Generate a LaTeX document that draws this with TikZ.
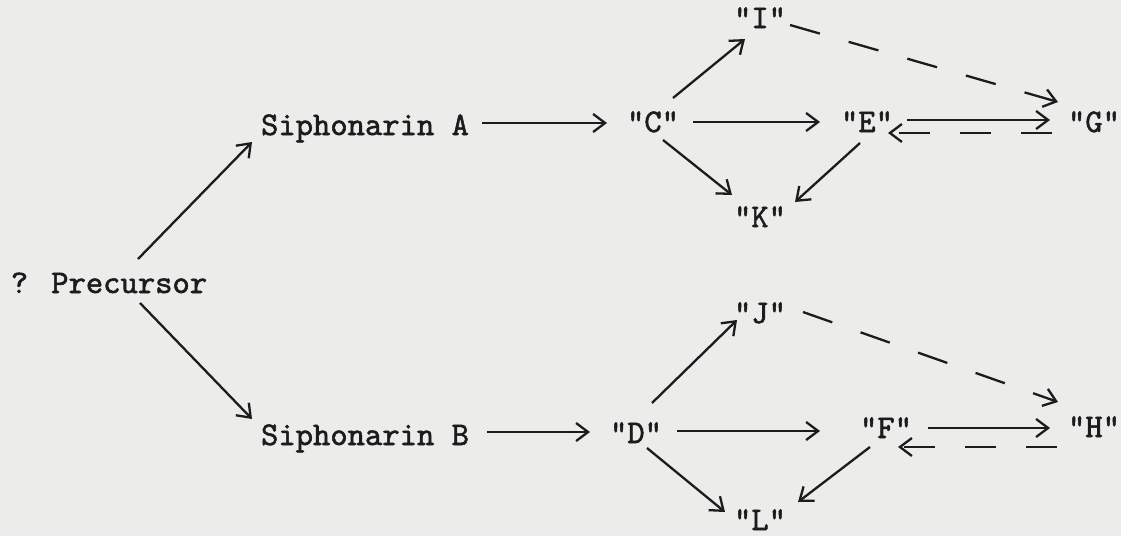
\documentclass[tikz,border=0pt]{standalone}
\usepackage{fontspec}
\newfontfamily\tyfont{lmmono10-regular.otf}[FakeBold=1.6]
\usetikzlibrary{arrows.meta,calc}
\definecolor{bg}{RGB}{236,236,235}
\definecolor{ink}{RGB}{28,28,28}
\begin{document}
\begin{tikzpicture}[x=1pt,y=-1pt,
  lbl/.style={anchor=base,inner sep=0pt,text=ink,font=\tyfont\fontsize{33}{33}\selectfont},
  arr/.style={draw=ink,line width=2.3pt,-{Straight Barb[length=12pt,width=18pt,line width=2.3pt]}},
  dsh/.style={arr,dash pattern=on 31pt off 30pt}]
\fill[bg] (0,0) rectangle (1121,536);
\useasboundingbox (0,0) rectangle (1121,536);
\node[lbl] (Pre) at (109,293) {? Precursor};
\node[lbl] (SA) at (365,135) {Siphonarin A};
\node[lbl] (SB) at (365,445) {Siphonarin B};
\node[lbl] (C) at (653,132) {"C"};
\node[lbl] (I) at (760,28) {"I"};
\node[lbl] (E) at (867,132) {"E"};
\node[lbl] (G) at (1094,132) {"G"};
\node[lbl] (K) at (760,227) {"K"};
\node[lbl] (D) at (636,443) {"D"};
\node[lbl] (J) at (760,323) {"J"};
\node[lbl] (F) at (886,438) {"F"};
\node[lbl] (H) at (1094,437) {"H"};
\node[lbl] (L) at (760,530) {"L"};
% top
\draw[arr] ($(Pre.base)+(29,-34)$) -- ($(SA.base)+(-113,7)$);
\draw[arr] ($(Pre.base)+(31,10)$) -- ($(SB.base)+(-113,-26)$);
\draw[arr] ($(SA.base)+(117,-12)$) -- ($(C.base)+(-46,-9)$);
\draw[arr] ($(C.base)+(40,-10)$) -- ($(E.base)+(-47,-10)$);
\draw[arr] ($(C.base)+(20,-34)$) -- ($(I.base)+(-15,11)$);
\draw[arr] ($(C.base)+(10,8)$) -- ($(K.base)+(-28,-32)$);
\draw[arr] ($(E.base)+(-7,11)$) -- ($(K.base)+(35,-25)$);
\draw[arr] ($(E.base)+(40,-12)$) -- ($(G.base)+(-44,-12)$);
\draw[dsh] ($(G.base)+(-42,1)$) -- ($(E.base)+(21,1)$);
\draw[dsh] ($(I.base)+(30,-3)$) -- ($(G.base)+(-36,-30)$);
% bottom
\draw[arr] ($(SB.base)+(122,-13)$) -- ($(D.base)+(-46,-11)$);
\draw[arr] ($(D.base)+(41,-12)$) -- ($(F.base)+(-66,-7)$);
\draw[arr] ($(D.base)+(16,-40)$) -- ($(J.base)+(-23,-3)$);
\draw[arr] ($(D.base)+(11,5)$) -- ($(L.base)+(-35,-18)$);
\draw[arr] ($(F.base)+(-16,9)$) -- ($(L.base)+(38,-28)$);
\draw[arr] ($(F.base)+(42,-10)$) -- ($(H.base)+(-44,-9)$);
\draw[dsh] ($(H.base)+(-37,10)$) -- ($(F.base)+(12,9)$);
\draw[dsh] ($(J.base)+(43,-11)$) -- ($(H.base)+(-36,-35)$);
\end{tikzpicture}
\end{document}
